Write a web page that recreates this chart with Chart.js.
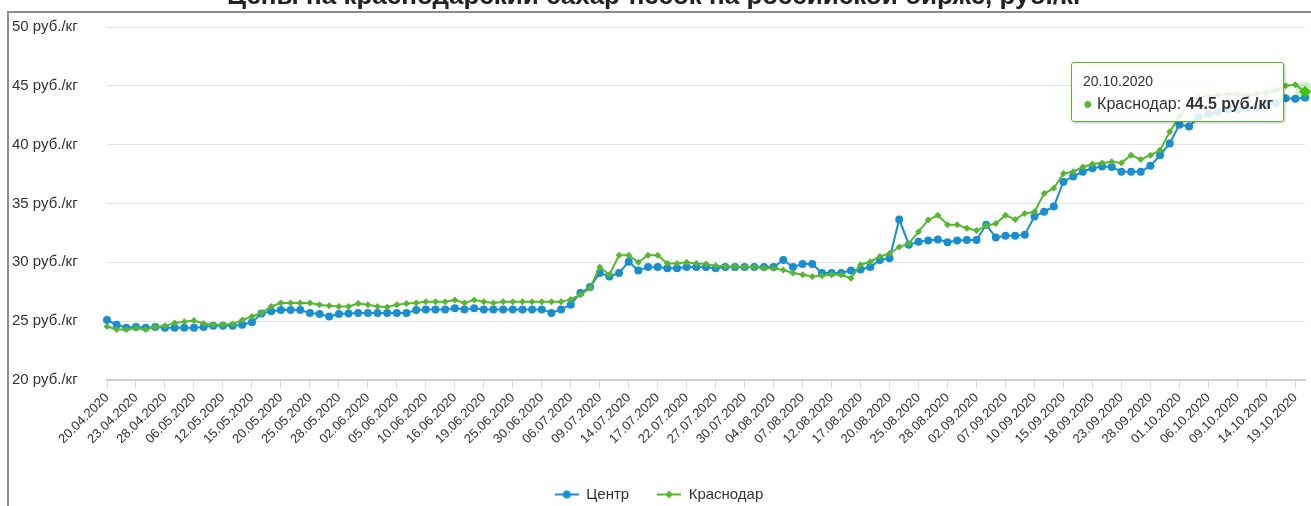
<!DOCTYPE html>
<html lang="ru">
<head>
<meta charset="utf-8">
<title>Цены на краснодарский сахар-песок</title>
<script src="https://cdn.jsdelivr.net/npm/chart.js@4"></script>
<style>
  html, body { margin: 0; padding: 0; background: #fff; }
  body {
    width: 1311px; height: 506px; overflow: hidden; position: relative;
    font-family: "Liberation Sans", Arial, sans-serif;
  }
  .frame {
    position: absolute; left: 7px; top: 11px; width: 1320px; height: 520px;
    border-left: 2px solid #8c8c8c; border-top: 2px solid #8c8c8c;
  }
  .chart-title {
    position: absolute; left: 0; right: 0; top: -20px;
    text-align: center; font-weight: bold; font-size: 26px; color: #222;
    white-space: nowrap;
  }
  #price-chart { position: absolute; left: 0; top: 0; }
  #tip {
    position: absolute; display: none; pointer-events: none;
    background: rgba(255, 255, 255, 0.85);
    border: 1px solid #58b732; border-radius: 3px;
    box-shadow: 1px 1px 3px rgba(0, 0, 0, 0.25);
    padding: 10px 10px 8px 11px; color: #333; white-space: nowrap;
  }
  #tip .tip-date { font-size: 14px; margin-bottom: 6px; }
  #tip .tip-row { font-size: 16px; }
</style>
</head>
<body>
<div class="frame"></div>
<canvas id="price-chart" width="1311" height="506"></canvas>
<div class="chart-title">Цены на краснодарский сахар-песок на российской бирже, руб./кг</div>
<div id="tip"></div>

<script>
/* Биржевые цены на сахар-песок: Центр vs Краснодар, руб./кг */

const dates = [
  '20.04.2020', '21.04.2020', '22.04.2020', '23.04.2020', '24.04.2020', '27.04.2020',
  '28.04.2020', '29.04.2020', '30.04.2020', '06.05.2020', '07.05.2020', '08.05.2020',
  '12.05.2020', '13.05.2020', '14.05.2020', '15.05.2020', '18.05.2020', '19.05.2020',
  '20.05.2020', '21.05.2020', '22.05.2020', '25.05.2020', '26.05.2020', '27.05.2020',
  '28.05.2020', '29.05.2020', '01.06.2020', '02.06.2020', '03.06.2020', '04.06.2020',
  '05.06.2020', '08.06.2020', '09.06.2020', '10.06.2020', '11.06.2020', '15.06.2020',
  '16.06.2020', '17.06.2020', '18.06.2020', '19.06.2020', '22.06.2020', '23.06.2020',
  '25.06.2020', '26.06.2020', '29.06.2020', '30.06.2020', '02.07.2020', '03.07.2020',
  '06.07.2020', '07.07.2020', '08.07.2020', '09.07.2020', '10.07.2020', '13.07.2020',
  '14.07.2020', '15.07.2020', '16.07.2020', '17.07.2020', '20.07.2020', '21.07.2020',
  '22.07.2020', '23.07.2020', '24.07.2020', '27.07.2020', '28.07.2020', '29.07.2020',
  '30.07.2020', '31.07.2020', '03.08.2020', '04.08.2020', '05.08.2020', '06.08.2020',
  '07.08.2020', '10.08.2020', '11.08.2020', '12.08.2020', '13.08.2020', '14.08.2020',
  '17.08.2020', '18.08.2020', '19.08.2020', '20.08.2020', '21.08.2020', '24.08.2020',
  '25.08.2020', '26.08.2020', '27.08.2020', '28.08.2020', '31.08.2020', '01.09.2020',
  '02.09.2020', '03.09.2020', '04.09.2020', '07.09.2020', '08.09.2020', '09.09.2020',
  '10.09.2020', '11.09.2020', '14.09.2020', '15.09.2020', '16.09.2020', '17.09.2020',
  '18.09.2020', '21.09.2020', '22.09.2020', '23.09.2020', '24.09.2020', '25.09.2020',
  '28.09.2020', '29.09.2020', '30.09.2020', '01.10.2020', '02.10.2020', '05.10.2020',
  '06.10.2020', '07.10.2020', '08.10.2020', '09.10.2020', '12.10.2020', '13.10.2020',
  '14.10.2020', '15.10.2020', '16.10.2020', '19.10.2020', '20.10.2020'
];

const centerPrices = [
  25.1, 24.7, 24.45, 24.5, 24.45, 24.5, 24.45, 24.45, 24.45, 24.45, 24.5, 24.6,
  24.6, 24.6, 24.7, 24.9, 25.65, 25.85, 25.95, 25.95, 25.95, 25.7, 25.6, 25.4,
  25.6, 25.65, 25.7, 25.7, 25.7, 25.7, 25.7, 25.7, 25.95, 26.0, 26.0, 26.0,
  26.1, 26.0, 26.1, 26.0, 26.0, 26.0, 26.0, 26.0, 26.0, 26.0, 25.7, 26.0,
  26.4, 27.4, 27.9, 29.1, 28.8, 29.1, 30.05, 29.3, 29.6, 29.6, 29.5, 29.5,
  29.6, 29.6, 29.6, 29.5, 29.6, 29.6, 29.6, 29.6, 29.6, 29.6, 30.2, 29.6,
  29.85, 29.85, 29.1, 29.1, 29.1, 29.3, 29.4, 29.6, 30.2, 30.35, 33.65, 31.5,
  31.75, 31.85, 31.95, 31.7, 31.85, 31.9, 31.9, 33.2, 32.1, 32.25, 32.25, 32.35,
  33.9, 34.3, 34.75, 36.85, 37.3, 37.7, 38.0, 38.15, 38.1, 37.7, 37.7, 37.7,
  38.2, 39.1, 40.1, 41.7, 41.55, 42.3, 42.6, 42.8, 43.0, 43.0, 43.1, 43.2,
  43.3, 43.5, 43.95, 43.9, 44.0
];

const krasnodarPrices = [
  24.55, 24.3, 24.3, 24.4, 24.3, 24.5, 24.6, 24.85, 24.95, 25.05, 24.8, 24.7,
  24.7, 24.75, 25.1, 25.4, 25.7, 26.25, 26.55, 26.55, 26.55, 26.55, 26.4, 26.3,
  26.25, 26.25, 26.5, 26.4, 26.25, 26.2, 26.4, 26.5, 26.55, 26.65, 26.65, 26.65,
  26.8, 26.55, 26.8, 26.65, 26.55, 26.65, 26.65, 26.65, 26.65, 26.65, 26.65, 26.65,
  26.85, 27.25, 27.8, 29.6, 28.95, 30.6, 30.6, 30.0, 30.6, 30.6, 29.9, 29.9,
  30.0, 29.9, 29.85, 29.7, 29.65, 29.65, 29.6, 29.6, 29.5, 29.5, 29.35, 29.1,
  28.95, 28.8, 28.85, 28.95, 28.95, 28.65, 29.8, 30.05, 30.5, 30.75, 31.3, 31.6,
  32.6, 33.6, 34.0, 33.2, 33.2, 32.9, 32.7, 33.1, 33.3, 34.0, 33.65, 34.15,
  34.3, 35.85, 36.3, 37.55, 37.7, 38.1, 38.35, 38.45, 38.55, 38.45, 39.1, 38.75,
  39.1, 39.55, 41.1, 42.4, 43.5, 44.0, 44.1, 44.2, 44.3, 44.3, 44.2, 44.3,
  44.4, 44.6, 45.0, 45.1, 44.5
];

const yMin = 20;
const yMax = 50;
const yStep = 5;
const unit = 'руб./кг';

const BLUE = '#1a8fd0';
const GREEN = '#58b732';
const FONT = '"Liberation Sans", Arial, sans-serif';

// little "line + marker" icons for the legend
function legendIcon(color, shape) {
  const c = document.createElement('canvas');
  c.width = 24; c.height = 12;
  const g = c.getContext('2d');
  g.strokeStyle = color; g.lineWidth = 2;
  g.beginPath(); g.moveTo(0, 6); g.lineTo(24, 6); g.stroke();
  g.fillStyle = color;
  g.beginPath();
  if (shape === 'circle') {
    g.arc(12, 6, 4, 0, Math.PI * 2);
  } else {
    g.moveTo(12, 2); g.lineTo(16, 6); g.lineTo(12, 10); g.lineTo(8, 6); g.closePath();
  }
  g.fill();
  return c;
}
const legendIcons = [legendIcon(BLUE, 'circle'), legendIcon(GREEN, 'diamond')];

// html tooltip so the value can be bold
function externalTooltip(context) {
  const { chart, tooltip } = context;
  const el = document.getElementById('tip');
  if (tooltip.opacity === 0 || !tooltip.dataPoints || !tooltip.dataPoints.length) {
    el.style.display = 'none';
    return;
  }
  const dp = tooltip.dataPoints[0];
  el.innerHTML =
    `<div class="tip-date">${dp.label}</div>` +
    `<div class="tip-row"><span style="color:${dp.dataset.borderColor}">●</span> ` +
    `${dp.dataset.label}: <b>${dp.parsed.y.toFixed(1)} ${unit}</b></div>`;
  el.style.display = 'block';
  const x = chart.canvas.offsetLeft + tooltip.caretX;
  const y = chart.canvas.offsetTop + tooltip.caretY;
  el.style.left = (x - 21 - el.offsetWidth) + 'px';
  el.style.top = (y - el.offsetHeight / 2) + 'px';
}

// soft halo behind the hovered point
const haloPlugin = {
  id: 'halo',
  beforeDatasetsDraw(chart) {
    const ctx = chart.ctx;
    chart.getActiveElements().forEach(a => {
      const p = a.element;
      const color = chart.data.datasets[a.datasetIndex].borderColor;
      ctx.save();
      ctx.globalAlpha = 0.25;
      ctx.fillStyle = color;
      ctx.beginPath();
      ctx.arc(p.x, p.y, 10, 0, Math.PI * 2);
      ctx.fill();
      ctx.restore();
    });
  }
};

const chart = new Chart(document.getElementById('price-chart'), {
  type: 'line',
  data: {
    labels: dates,
    datasets: [
      {
        label: 'Центр',
        data: centerPrices,
        borderColor: BLUE,
        backgroundColor: BLUE,
        borderWidth: 2,
        pointStyle: 'circle',
        pointRadius: 4,
        pointBorderWidth: 0,
        pointHoverRadius: 5,
        tension: 0,
        order: 1
      },
      {
        label: 'Краснодар',
        data: krasnodarPrices,
        borderColor: GREEN,
        backgroundColor: GREEN,
        borderWidth: 2,
        pointStyle: 'rectRot',
        pointRadius: 3.5,
        pointBorderWidth: 0,
        pointHoverRadius: 6,
        pointHoverBorderWidth: 0,
        tension: 0,
        order: 0
      }
    ]
  },
  options: {
    responsive: false,
    animation: false,
    layout: { padding: { left: 12, right: 5, top: 27, bottom: -6 } },
    plugins: {
      legend: {
        position: 'bottom',
        labels: {
          usePointStyle: true,
          pointStyleWidth: 24,
          padding: 28,
          color: '#333',
          font: { family: FONT, size: 15 },
          sort: (a, b) => a.datasetIndex - b.datasetIndex,
          generateLabels(c) {
            const items = Chart.defaults.plugins.legend.labels.generateLabels(c);
            items.forEach(it => { it.pointStyle = legendIcons[it.datasetIndex]; });
            return items;
          }
        }
      },
      tooltip: { enabled: false, external: externalTooltip }
    },
    scales: {
      x: {
        type: 'category',
        offset: false,
        afterFit(scale) {
          scale.height = 79;
          scale.paddingLeft = 0;
          scale.paddingRight = 0;
        },
        grid: {
          drawOnChartArea: false,
          drawTicks: true,
          tickLength: 8,
          color: ctx => (ctx.index % 3 === 0 ? '#ccd6eb' : 'rgba(0,0,0,0)')
        },
        border: { display: true, color: '#cfcfcf', width: 2 },
        ticks: {
          autoSkip: false,
          minRotation: 45,
          maxRotation: 45,
          padding: 2,
          color: '#333',
          font: { family: FONT, size: 13 },
          callback(value, index) {
            return index % 3 === 0 ? this.getLabelForValue(value) : '';
          }
        }
      },
      y: {
        min: yMin,
        max: yMax,
        afterFit(scale) { scale.width = 95; },
        grid: { color: '#e3e3e3', lineWidth: 1, drawTicks: false },
        border: { display: false },
        ticks: {
          stepSize: yStep,
          crossAlign: 'far',
          color: '#333',
          font: { family: FONT, size: 15 },
          callback: v => `${v} ${unit}`
        }
      }
    }
  },
  plugins: [haloPlugin]
});

// show the tooltip for the last Krasnodar point, as in the screenshot
const active = [{ datasetIndex: 1, index: dates.length - 1 }];
chart.setActiveElements(active);
chart.tooltip.setActiveElements(active, { x: 0, y: 0 });
chart.update('none');
</script>
</body>
</html>
